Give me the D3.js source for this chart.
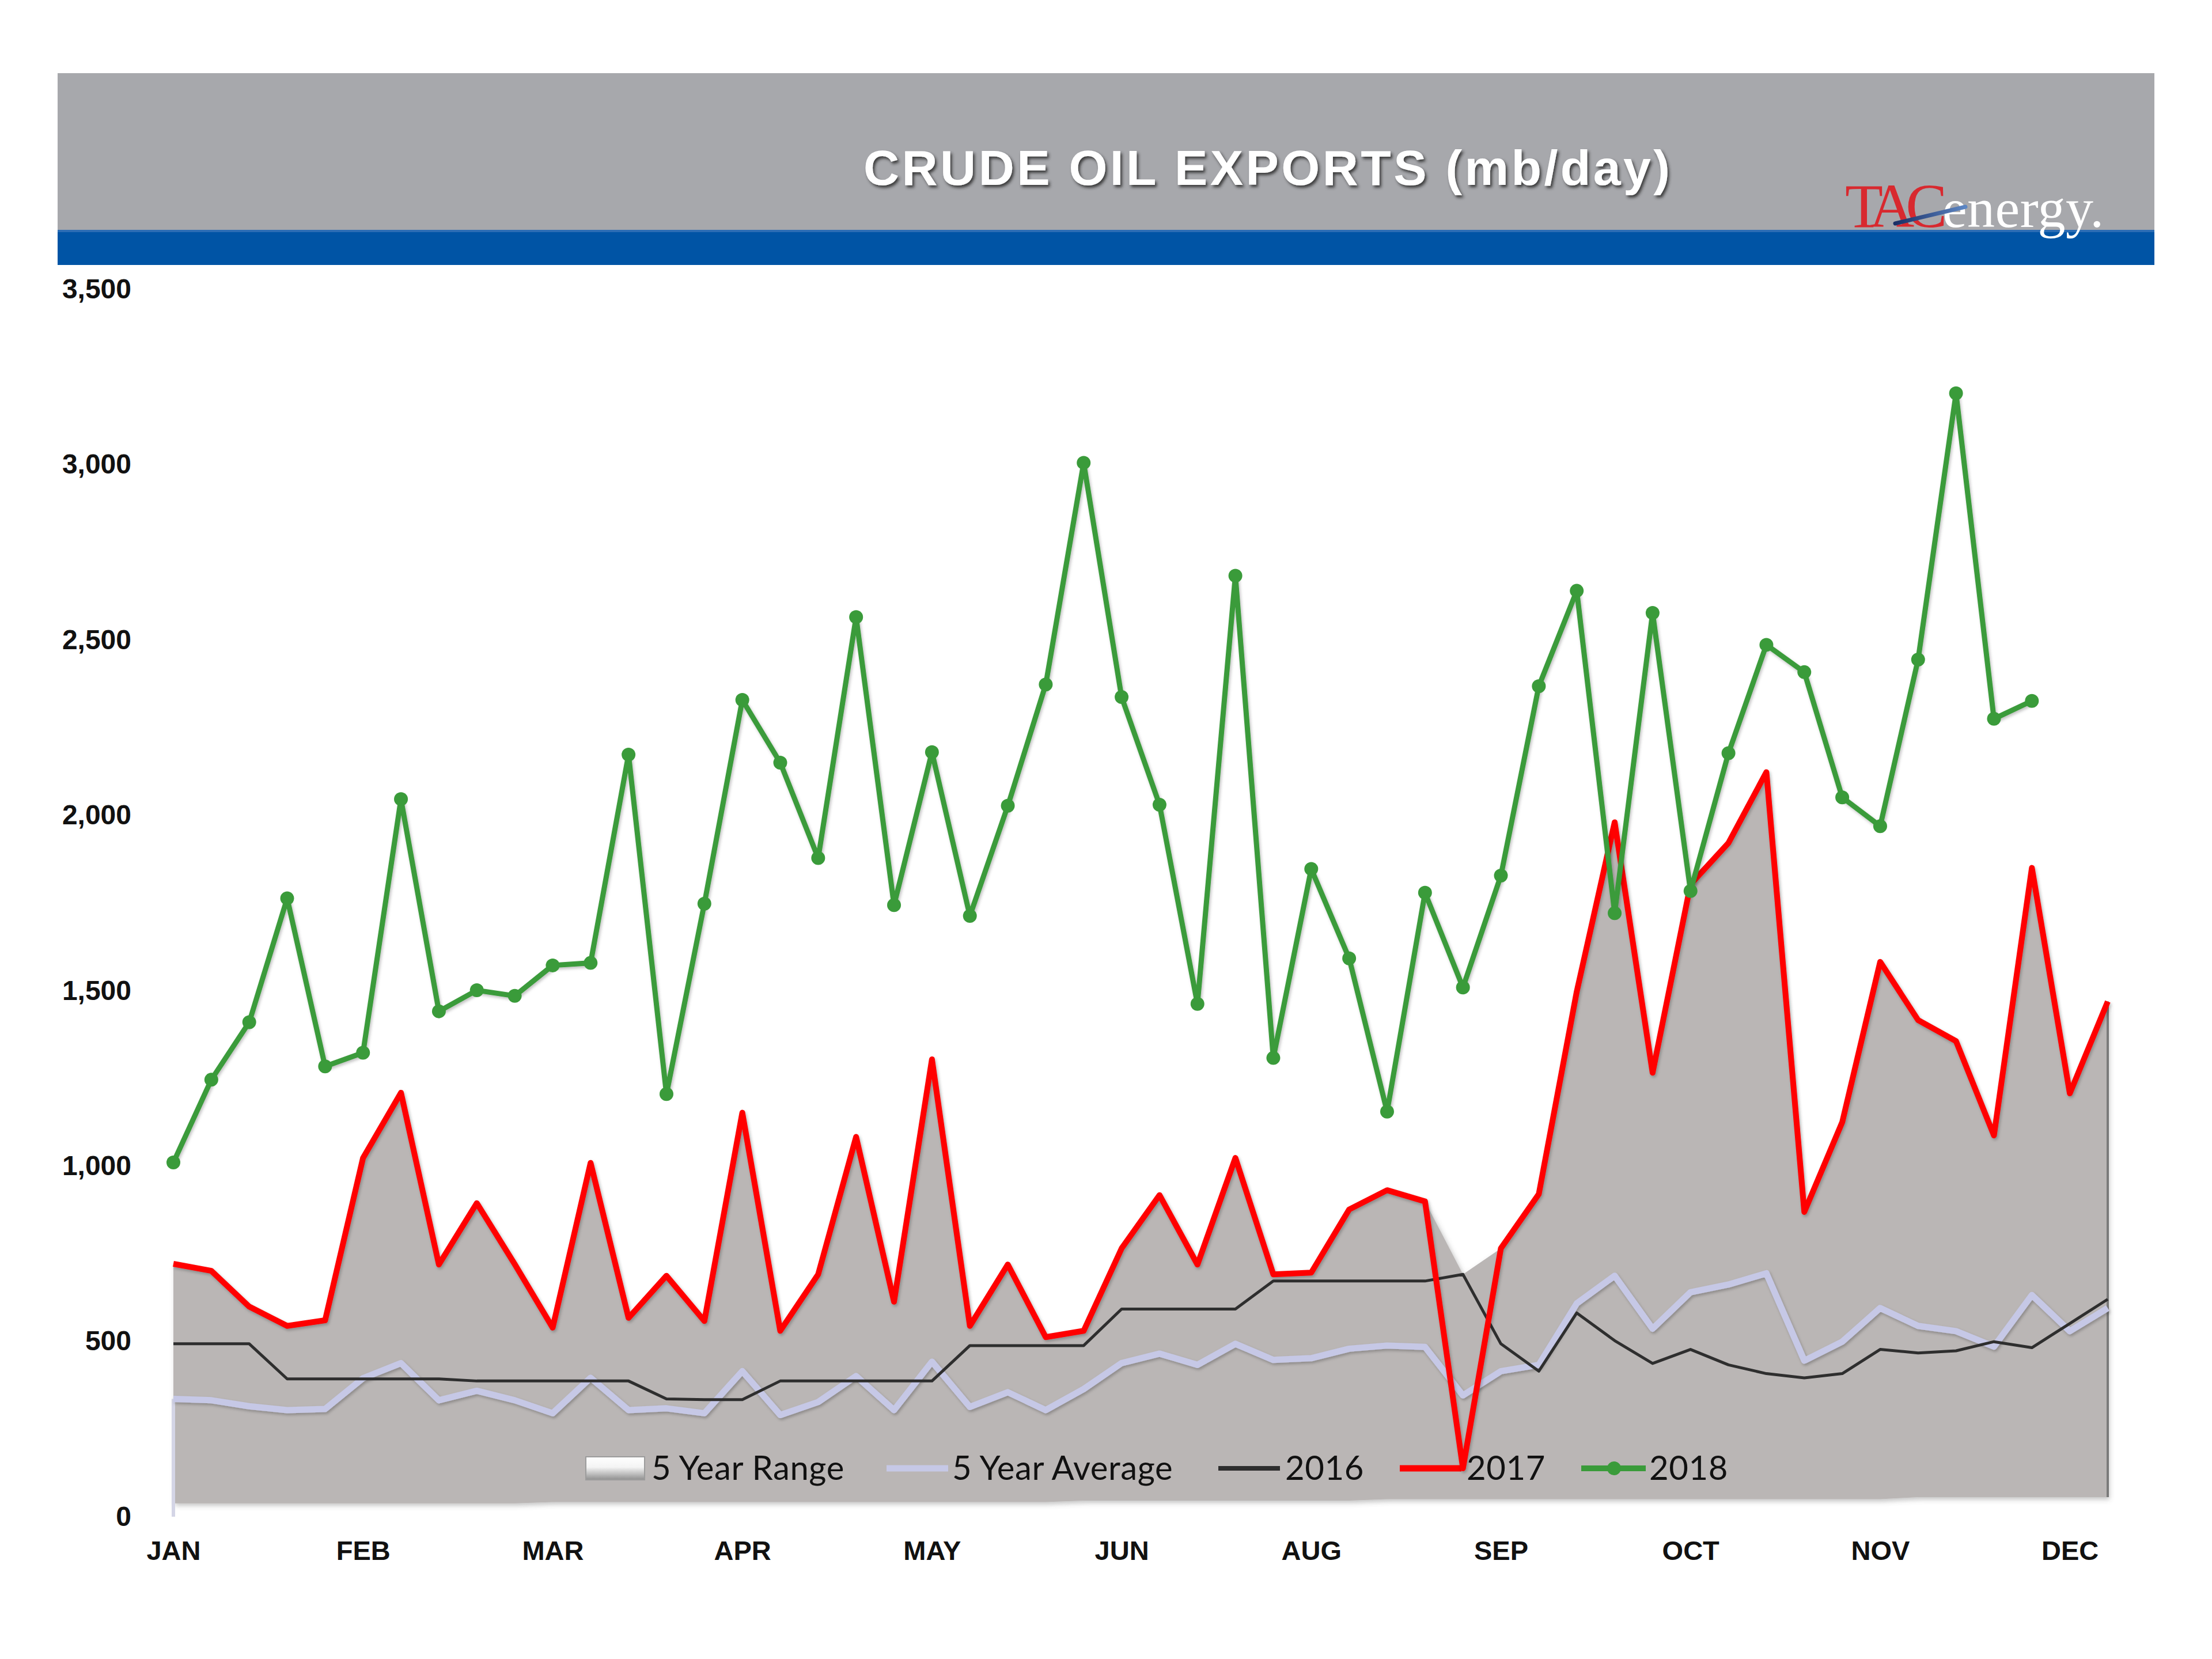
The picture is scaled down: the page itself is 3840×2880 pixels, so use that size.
<!DOCTYPE html>
<html><head><meta charset="utf-8">
<script src="https://cdn.jsdelivr.net/npm/d3@7"></script>
<style>
html,body{margin:0;padding:0;background:#fff;}
svg{display:block;}
</style></head>
<body>
<svg id="chart" width="3840" height="2880"></svg>
<script>
// ---------------- DATA ----------------
const monthLabels = ["JAN","FEB","MAR","APR","MAY","JUN","AUG","SEP","OCT","NOV","DEC"];
const monthTickWeeks = [0,5,10,15,20,25,30,35,40,45,50];
const yTicks = [0,500,1000,1500,2000,2500,3000,3500];
const seriesNames = ["5 Year Range","5 Year Average","2016","2017","2018"];

const rangeMin = [38,38,38,38,38,38,38,38,38,38,
                  42,42,42,42,42,42,42,42,42,42,42,42,42,42,
                  46,46,46,46,46,46,46,46,
                  50,50,50,50,50,50,50,50,50,50,50,50,50,50,
                  56,56,56,56,56,56];
const rangeMax = [721,701,599,544,560,1023,1209,719,894,720,
                  539,1009,567,687,558,1152,530,691,1083,613,
                  1304,544,719,512,530,765,917,719,1023,691,
                  696,876,931,899,691,765,920,1497,1980,1266,
                  1803,1921,2123,869,1125,1582,1416,1356,1087,1850,
                  1207,1469];
const avg5 = [336,332,315,304,307,395,438,332,359,332,
              295,396,304,309,295,415,290,327,401,304,
              442,313,355,304,364,438,465,433,493,447,
              452,479,488,484,346,415,433,608,687,536,
              640,662,694,445,499,595,544,529,485,632,
              529,595];
const y2016 = [493,493,493,393,393,393,393,393,387,387,
               387,387,387,336,334,334,387,387,387,387,
               387,488,488,488,488,592,592,592,592,672,
               672,672,672,672,691,493,415,581,502,437,
               477,433,408,396,408,477,467,473,499,482,
               551,620];
const y2017 = [721,701,599,544,560,1023,1209,719,894,720,
               539,1009,567,687,558,1152,530,691,1083,613,
               1304,544,719,512,530,765,917,719,1023,691,
               696,876,931,899,138,765,920,1497,1980,1266,
               1803,1921,2123,869,1125,1582,1416,1356,1087,1850,
               1207,1469];
const y2018 = [1010,1246,1410,1763,1284,1323,2046,1441,1501,1485,
               1572,1579,2173,1205,1748,2329,2150,1878,2565,1744,
               2180,1713,2027,2373,3005,2337,2030,1462,2683,1308,
               1847,1592,1155,1779,1509,1828,2368,2640,1721,2577,
               1784,2177,2486,2408,2051,1969,2444,3203,2275,2326];

// ---------------- LAYOUT ----------------
const svg = d3.select("#chart");
const defs = svg.append("defs");

const x = d3.scaleLinear().domain([0, 51]).range([301, 3659]);
const y = d3.scaleLinear().domain([0, 3500]).range([2633, 502]);

const tShadow = defs.append("filter").attr("id","tshadow").attr("x","-10%").attr("y","-30%").attr("width","120%").attr("height","160%");
tShadow.append("feDropShadow").attr("dx",3).attr("dy",4).attr("stdDeviation",2.5).attr("flood-color","#2a2a2a").attr("flood-opacity",0.85);

const aShadow = defs.append("filter").attr("id","ashadow").attr("x","-5%").attr("y","-5%").attr("width","110%").attr("height","110%");
aShadow.append("feDropShadow").attr("dx",3).attr("dy",4).attr("stdDeviation",4).attr("flood-color","#555").attr("flood-opacity",0.35);

const lShadow = defs.append("filter").attr("id","lshadow").attr("x","-5%").attr("y","-5%").attr("width","110%").attr("height","110%");
lShadow.append("feDropShadow").attr("dx",2).attr("dy",3).attr("stdDeviation",2.5).attr("flood-color","#000").attr("flood-opacity",0.25);

const legGrad = defs.append("linearGradient").attr("id","legGrad").attr("x1",0).attr("y1",0).attr("x2",0).attr("y2",1);
legGrad.append("stop").attr("offset","0%").attr("stop-color","#ffffff");
legGrad.append("stop").attr("offset","45%").attr("stop-color","#f4f4f4");
legGrad.append("stop").attr("offset","100%").attr("stop-color","#8f8f8f");

const slashGrad = defs.append("linearGradient").attr("id","slashGrad").attr("x1",0).attr("y1",0).attr("x2",1).attr("y2",0);
slashGrad.append("stop").attr("offset","0%").attr("stop-color","#1a2f66");
slashGrad.append("stop").attr("offset","100%").attr("stop-color","#5c86c4");

svg.append("rect").attr("width",3840).attr("height",2880).attr("fill","#ffffff");

// header
svg.append("rect").attr("x",100).attr("y",127).attr("width",3640).attr("height",274).attr("fill","#a7a8ac");
svg.append("rect").attr("x",100).attr("y",399).attr("width",3640).attr("height",61).attr("fill","#0054a5");
svg.append("rect").attr("x",100).attr("y",399).attr("width",3640).attr("height",4).attr("fill","#4a7fc0").attr("opacity",0.6);

svg.append("text")
  .attr("x", 2199).attr("y", 321)
  .attr("text-anchor","middle")
  .attr("font-family","'Liberation Sans', Arial, sans-serif")
  .attr("font-weight","bold")
  .attr("font-size", 86)
  .attr("textLength", 1400).attr("lengthAdjust","spacing")
  .attr("fill","#ffffff")
  .attr("filter","url(#tshadow)")
  .text("CRUDE OIL EXPORTS (mb/day)");

// logo
svg.append("text")
  .attr("x", 3203).attr("y", 394)
  .attr("font-family","'Liberation Serif', 'DejaVu Serif', serif")
  .attr("font-size", 108)
  .attr("letter-spacing", -15)
  .attr("fill","#d8292f")
  .text("TAC");
svg.append("text")
  .attr("x", 3372).attr("y", 394)
  .attr("font-family","'Liberation Serif', 'DejaVu Serif', serif")
  .attr("font-size", 96)
  .attr("letter-spacing", 0.5)
  .attr("fill","#ffffff")
  .text("energy.");
svg.append("line")
  .attr("x1",3290).attr("y1",388).attr("x2",3412).attr("y2",359)
  .attr("stroke","url(#slashGrad)").attr("stroke-width",7).attr("stroke-linecap","round");

// ---------------- PLOT ----------------
const idx = d3.range(52);

svg.append("line")
  .attr("x1", x(0)).attr("x2", x(51))
  .attr("y1", y(0)).attr("y2", y(0))
  .attr("stroke","#d6d6d6").attr("stroke-width",6)
  .attr("filter","url(#lshadow)");

const area = d3.area()
  .x(i => x(i))
  .y0(i => y(rangeMin[i]))
  .y1(i => y(rangeMax[i]));
svg.append("path")
  .datum(idx)
  .attr("d", area)
  .attr("fill","#bab6b5")
  .attr("filter","url(#ashadow)");

svg.append("line")
  .attr("x1", x(0)).attr("x2", x(0))
  .attr("y1", y(avg5[0])).attr("y2", y(0))
  .attr("stroke","#d4d5e6").attr("stroke-width",6);
svg.append("line")
  .attr("x1", x(51)).attr("x2", x(51))
  .attr("y1", y(rangeMax[51])).attr("y2", y(rangeMin[51]))
  .attr("stroke","#7a7a7a").attr("stroke-width",4);

const line = arr => d3.line().x((d,i) => x(i)).y(d => y(d))(arr);

svg.append("path").attr("d", line(avg5))
  .attr("fill","none").attr("stroke","#c6c8e6").attr("stroke-width",11)
  .attr("stroke-linejoin","round").attr("filter","url(#lshadow)");

svg.append("path").attr("d", line(y2016))
  .attr("fill","none").attr("stroke","#2e2e2e").attr("stroke-width",5)
  .attr("stroke-linejoin","round");

// legend
const legY = 2549;
const legMarkX = [1017, 1539, 2115, 2430, 2745];
const legTextX = [1131, 1653, 2231, 2546, 2863];
const leg = svg.append("g").attr("class","legend");
leg.append("rect").attr("x", legMarkX[0]).attr("y", legY-20).attr("width", 102).attr("height", 40)
  .attr("fill","url(#legGrad)").attr("stroke","#9c9c9c").attr("stroke-width",2);
leg.append("line").attr("x1", legMarkX[1]).attr("x2", legMarkX[1]+107).attr("y1", legY).attr("y2", legY)
  .attr("stroke","#c6c8e6").attr("stroke-width",11);
leg.append("line").attr("x1", legMarkX[2]).attr("x2", legMarkX[2]+107).attr("y1", legY).attr("y2", legY)
  .attr("stroke","#2e2e2e").attr("stroke-width",8);
leg.append("line").attr("x1", legMarkX[3]).attr("x2", legMarkX[3]+107).attr("y1", legY).attr("y2", legY)
  .attr("stroke","#ff0000").attr("stroke-width",11);
leg.append("line").attr("x1", legMarkX[4]).attr("x2", legMarkX[4]+112).attr("y1", legY).attr("y2", legY)
  .attr("stroke","#3a9b3a").attr("stroke-width",10);
leg.append("circle").attr("cx", legMarkX[4]+57).attr("cy", legY).attr("r", 12).attr("fill","#3a9b3a");
leg.selectAll("text.lt").data(seriesNames).join("text")
  .attr("class","lt")
  .attr("x", (d,i) => legTextX[i]).attr("y", legY + 20)
  .attr("font-family","Lato, 'Open Sans', sans-serif")
  .attr("font-size", 58)
  .attr("letter-spacing", 0.6)
  .attr("fill","#111")
  .text(d => d);

svg.append("path").attr("d", line(y2017))
  .attr("fill","none").attr("stroke","#ff0000").attr("stroke-width",10)
  .attr("stroke-linejoin","round").attr("filter","url(#lshadow)");

svg.append("path").attr("d", line(y2018))
  .attr("fill","none").attr("stroke","#3a9b3a").attr("stroke-width",9)
  .attr("stroke-linejoin","round").attr("filter","url(#lshadow)");
svg.selectAll("circle.m18").data(y2018).join("circle")
  .attr("class","m18")
  .attr("cx", (d,i) => x(i)).attr("cy", d => y(d))
  .attr("r", 12).attr("fill","#3a9b3a");

// axes
const yAxis = svg.append("g")
  .attr("transform","translate(240,0)")
  .call(d3.axisLeft(y).tickValues(yTicks).tickFormat(d3.format(",")).tickSize(0).tickPadding(12));
yAxis.select(".domain").remove();
yAxis.selectAll("text")
  .attr("font-family","'Liberation Sans', Arial, sans-serif")
  .attr("font-weight","bold")
  .attr("font-size", 48)
  .attr("fill","#111");

const xAxis = svg.append("g")
  .attr("transform",`translate(0,${y(0)})`)
  .call(d3.axisBottom(x).tickValues(monthTickWeeks).tickFormat((d,i) => monthLabels[i]).tickSize(0).tickPadding(42));
xAxis.select(".domain").remove();
xAxis.selectAll("text")
  .attr("font-family","'Liberation Sans', Arial, sans-serif")
  .attr("font-weight","bold")
  .attr("font-size", 47)
  .attr("fill","#111");
</script>
</body></html>
